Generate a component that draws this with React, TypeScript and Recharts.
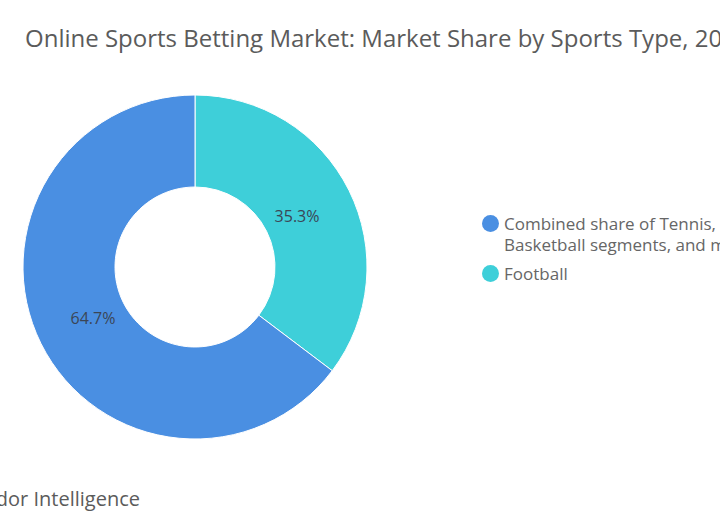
import React from "react";
import { PieChart, Pie, Cell, Legend } from "recharts";

const categories = ["Football", "Combined share of Tennis, Cricket, Basketball segments, and more"];
const shares = [35.3, 64.7];
const colors = ["#3ECFD9", "#4A8FE2"];
const legendOrder = [1, 0];
const legendLines = [
  ["Combined share of Tennis, Cricket,", "Basketball segments, and more"],
  ["Football"],
];

const data = categories.map((name, i) => ({ name, value: shares[i] }));

const FONT = "'Open Sans', Lato, sans-serif";
const RAD = Math.PI / 180;

const renderLabel = (props: any) => {
  const { cx, cy, midAngle, innerRadius, outerRadius, value } = props;
  const r = (innerRadius + outerRadius) / 2 - 12;
  const x = cx + r * Math.cos(-midAngle * RAD);
  const y = cy + r * Math.sin(-midAngle * RAD);
  return (
    <text x={x} y={y} fill="#3b4656" fontSize={16} fontFamily={FONT} textAnchor="middle" dominantBaseline="central">
      {value.toFixed(1)}%
    </text>
  );
};

const renderLegend = () => (
  <div style={{ fontFamily: FONT, fontSize: 17, color: "#666", lineHeight: "21px", whiteSpace: "nowrap" }}>
    {legendOrder.map((idx, k) => (
      <div key={k} style={{ display: "flex", alignItems: "flex-start", marginBottom: 8 }}>
        <span
          style={{
            display: "inline-block",
            width: 17,
            height: 17,
            borderRadius: "50%",
            background: colors[idx],
            marginTop: 2,
            marginRight: 5,
            flex: "none",
          }}
        />
        <span>
          {legendLines[k].map((l, j) => (
            <div key={j}>{l}</div>
          ))}
        </span>
      </div>
    ))}
  </div>
);

export default function App() {
  return (
    <div style={{ position: "absolute", left: 0, top: 0, width: 720, height: 530, overflow: "hidden", background: "#fff" }}>
      <div style={{ position: "absolute", left: 25, top: 21, fontFamily: FONT, fontSize: 24, color: "#5b5b5b", whiteSpace: "nowrap" }}>
        Online Sports Betting Market: Market Share by Sports Type, 2023
      </div>
      <div style={{ position: "absolute", left: 0, top: 0 }}>
        <PieChart width={720} height={530} margin={{ top: 0, right: 0, bottom: 0, left: 0 }}>
          <Pie
            data={data}
            dataKey="value"
            nameKey="name"
            cx={195}
            cy={267}
            innerRadius={80}
            outerRadius={172}
            startAngle={90}
            endAngle={-270}
            stroke="#ffffff"
            strokeWidth={1}
            label={renderLabel}
            labelLine={false}
            isAnimationActive={false}
          >
            {data.map((d, i) => (
              <Cell key={d.name} fill={colors[i]} />
            ))}
          </Pie>
          <Legend
            content={renderLegend}
            layout="vertical"
            wrapperStyle={{ position: "absolute", left: 482, top: 213, width: 400 }}
          />
        </PieChart>
      </div>
      <div style={{ position: "absolute", right: 720 - 140, top: 485, fontFamily: FONT, fontSize: 20, color: "#5b5b5b", whiteSpace: "nowrap", textAlign: "right" }}>
        Mordor Intelligence
      </div>
    </div>
  );
}
